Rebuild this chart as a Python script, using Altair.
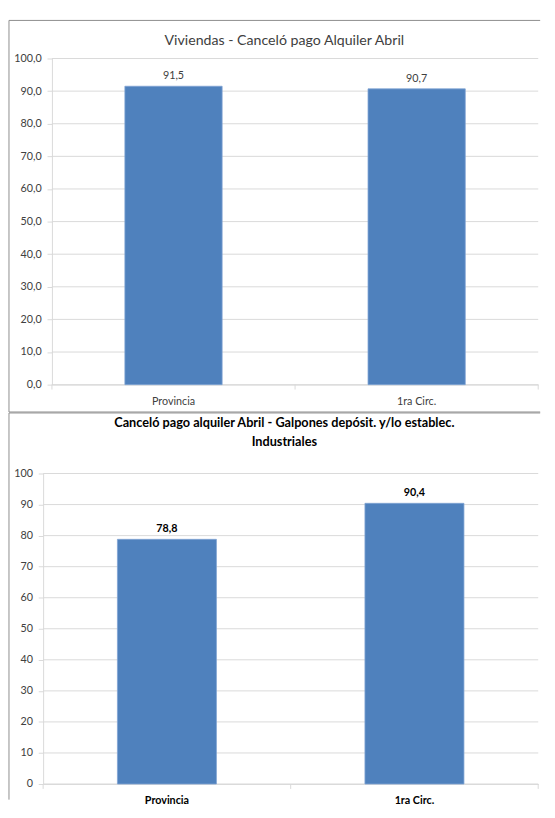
import altair as alt
import pandas as pd

categories = ["Provincia", "1ra Circ."]
viviendas = [91.5, 90.7]
galpones = [78.8, 90.4]
title_top = "Viviendas - Canceló pago Alquiler Abril"
title_bottom = ["Canceló pago alquiler Abril - Galpones depósit. y/lo establec.", "Industriales"]
y_ticks = [0, 10, 20, 30, 40, 50, 60, 70, 80, 90, 100]

FONT = "Lato"
GRID = "#d9d9d9"
BORDER = "#8c8c8c"
BLUE = "#4f81bd"
TXT = "#404040"

W = 498


def fmt(v):
    return f"{v:.1f}".replace(".", ",")


def panel(values, h, bold, ylabel_expr, shift, title_lines, title_size, title_ys,
          border_top, border_bottom, draw_bottom):
    df = pd.DataFrame({"cat": categories, "val": values,
                       "lab": [fmt(v) for v in values]})
    grid_df = pd.DataFrame({"val": y_ticks})
    weight = "bold" if bold else "normal"
    color = "#000000" if bold else TXT
    x_axis = alt.Axis(title=None, labelAngle=0, ticks=False,
                      domainColor=GRID, labelFont=FONT, labelFontSize=11,
                      labelFontWeight=weight, labelColor=color, labelPadding=11)
    y_axis = alt.Axis(title=None, values=y_ticks, labelExpr=ylabel_expr,
                      grid=False, domainColor=GRID, tickColor=GRID,
                      tickSize=5, labelPadding=6, labelFont=FONT,
                      labelFontSize=11, labelColor=TXT, offset=shift)
    x_scale = alt.Scale(paddingInner=0.6, paddingOuter=0.3, range=[-shift, W])
    y_scale = alt.Scale(domain=[0, 100])

    def xs():
        return alt.X("cat:N", sort=categories, scale=x_scale, axis=x_axis)

    def ys():
        return alt.Y("val:Q", scale=y_scale, axis=y_axis)

    grid = alt.Chart(grid_df).mark_rule(color=GRID, strokeWidth=1).encode(
        y=ys(), x=alt.value(-shift), x2=alt.value(W))
    bars = alt.Chart(df).mark_bar(color=BLUE, stroke="#7fa3d3",
                                  strokeWidth=0.8).encode(x=xs(), y=ys())
    labels = alt.Chart(df).mark_text(baseline="bottom", dy=-5, font=FONT,
                                     fontSize=11, fontWeight=weight,
                                     color=color).encode(
        x=xs(), y=ys(), text="lab:N")
    layers = [grid, bars, labels]
    one = pd.DataFrame({"a": [0]})
    for line, ty in zip(title_lines, title_ys):
        layers.append(alt.Chart(pd.DataFrame({"t": [line]})).mark_text(
            font=FONT, fontSize=title_size, fontWeight=weight,
            color=color, baseline="middle", align="center").encode(
            x=alt.value(238), y=alt.value(ty), text="t:N"))
    step = (W + shift) / 2
    for k in range(3):
        layers.append(alt.Chart(one).mark_rule(color=GRID).encode(
            x=alt.value(-shift + k * step), y=alt.value(h), y2=alt.value(h + 5)))
    layers.append(alt.Chart(one).mark_rule(color=BORDER).encode(
        x=alt.value(-44), x2=alt.value(500), y=alt.value(border_top)))
    layers.append(alt.Chart(one).mark_rule(color=BORDER).encode(
        x=alt.value(-44), y=alt.value(border_top), y2=alt.value(border_bottom)))
    if draw_bottom:
        layers.append(alt.Chart(one).mark_rule(color=BORDER).encode(
            x=alt.value(-44), x2=alt.value(500), y=alt.value(border_bottom)))
    return alt.layer(*layers).properties(width=W, height=h)


top = panel(viviendas, 334, False,
            "replace(format(datum.value, '.1f'), '.', ',')", 0,
            [title_top], 14.5, [-18],
            -39, 362, True)
bottom = panel(galpones, 318, True,
               "format(datum.value, 'd')", 9,
               title_bottom, 13, [-52, -32],
               -62, 334, False)

chart = alt.vconcat(top, bottom, spacing=91, bounds="flush").properties(
    padding={"left": 0, "top": 2, "right": 0, "bottom": 0},
    background="white",
).configure_view(strokeWidth=0)

chart.save("out.html", embed_options={"renderer": "svg", "actions": False})
